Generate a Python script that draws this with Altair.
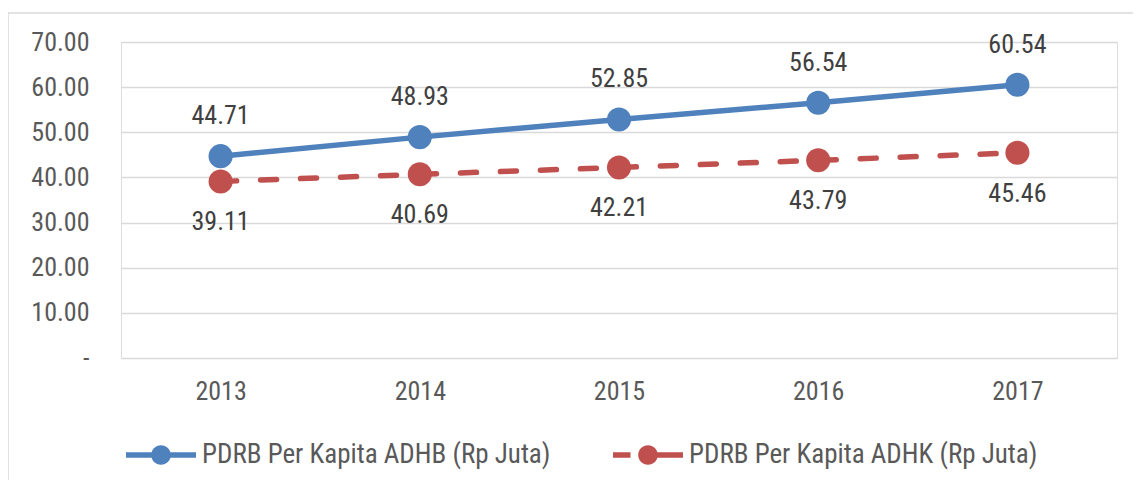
import altair as alt
import pandas as pd

years = ["2013", "2014", "2015", "2016", "2017"]
adhb = [44.71, 48.93, 52.85, 56.54, 60.54]
adhk = [39.11, 40.69, 42.21, 43.79, 45.46]
s1 = "PDRB Per Kapita ADHB (Rp Juta)"
s2 = "PDRB Per Kapita ADHK (Rp Juta)"

rows = []
for y, a, k in zip(years, adhb, adhk):
    rows.append({"year": y, "value": a, "series": s1})
    rows.append({"year": y, "value": k, "series": s2})
df = pd.DataFrame(rows)

FONT = "Liberation Sans Narrow, Arial Narrow, Roboto Condensed, DejaVu Sans Condensed, sans-serif"
BLUE = "#4F81BD"
RED = "#C0504D"

# legend symbol paths (unit box -1..1)
circ = "M0.28,0 A0.28,0.28 0 1,1 -0.28,0 A0.28,0.28 0 1,1 0.28,0 Z"
solid_path = "M-1,-0.08 L-0.25,-0.08 L-0.25,0.08 L-1,0.08 Z M0.25,-0.08 L1,-0.08 L1,0.08 L0.25,0.08 Z " + circ
dash_path = "M-1,-0.08 L-0.5,-0.08 L-0.5,0.08 L-1,0.08 Z M0.26,-0.08 L1,-0.08 L1,0.08 L0.26,0.08 Z " + circ

x = alt.X("year:N", scale=alt.Scale(type="point", padding=0.5),
          axis=alt.Axis(title=None, labelAngle=0, domain=False, ticks=False, grid=False,
                        labelFontSize=26, labelFont=FONT, labelColor="#595959", labelPadding=20))
y = alt.Y("value:Q", scale=alt.Scale(domain=[0, 70], nice=False),
          axis=alt.Axis(title=None, values=[0, 10, 20, 30, 40, 50, 60, 70], domain=False, ticks=False,
                        grid=True, gridColor="#D9D9D9", gridWidth=1.5,
                        labelFontSize=26, labelFont=FONT, labelColor="#595959", labelPadding=32,
                        labelExpr="datum.value == 0 ? '-\u00a0\u00a0' : format(datum.value, '.2f')"))
leg = dict(title=None, orient="none", legendX=5, legendY=378, direction="horizontal",
           columns=2, labelFontSize=27, labelFont=FONT, labelColor="#595959",
           symbolSize=4900, symbolOpacity=1, symbolStrokeWidth=0,
           labelOffset=6, columnPadding=62, labelLimit=600)
color = alt.Color("series:N", scale=alt.Scale(domain=[s1, s2], range=[BLUE, RED]), legend=alt.Legend(**leg))
shape = alt.Shape("series:N", scale=alt.Scale(domain=[s1, s2], range=[solid_path, dash_path]),
                  legend=alt.Legend(**leg))

base = alt.Chart(df)

border = alt.Chart(pd.DataFrame({"a": [0]})).mark_rect(
    fillOpacity=0, stroke="#D9D9D9", strokeWidth=1.5, clip=False).encode(
    x=alt.value(-113), x2=alt.value(1040), y=alt.value(-29), y2=alt.value(470))

line1 = base.transform_filter(alt.datum.series == s1).mark_line(strokeWidth=5.5, strokeCap="round").encode(
    x=x, y=y, color=color)
line2 = base.transform_filter(alt.datum.series == s2).mark_line(strokeWidth=5.5, strokeCap="round",
                                                                strokeDash=[16, 24]).encode(x=x, y=y, color=color)
pts = base.mark_point(filled=True, size=580, opacity=1, shape="circle").encode(x=x, y=y, color=color)
ghost = base.mark_point(filled=True, size=10, opacity=0).encode(x=x, y=y, color=color, shape=shape)

txt1 = base.transform_filter(alt.datum.series == s1).mark_text(
    dy=-40, fontSize=26, font=FONT, color="#404040", baseline="middle").encode(
    x=x, y=y, text=alt.Text("value:Q", format=".2f"))
txt2 = base.transform_filter(alt.datum.series == s2).mark_text(
    dy=41, fontSize=26, font=FONT, color="#404040", baseline="middle").encode(
    x=x, y=y, text=alt.Text("value:Q", format=".2f"))

chart = alt.layer(border, line1, line2, pts, ghost, txt1, txt2).properties(
    width=996, height=316,
    autosize=alt.AutoSizeParams(type="none"),
    padding={"left": 113, "top": 34, "right": 16, "bottom": 122},
).configure_view(strokeWidth=0).configure(background="white")

chart.save("out.html", embed_options={"renderer": "svg", "actions": False})
